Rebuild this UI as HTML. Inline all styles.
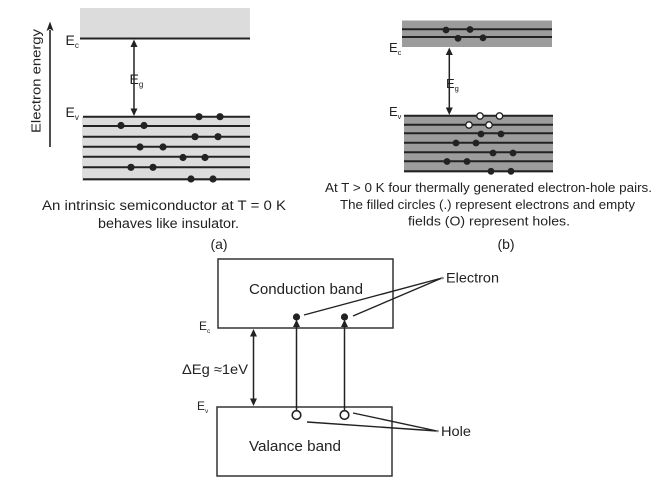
<!DOCTYPE html>
<html>
<head>
<meta charset="utf-8">
<style>
html,body{margin:0;padding:0;background:#fff;}
svg{display:block;}
text{font-family:"Liberation Sans",Arial,sans-serif;fill:#222;}
</style>
</head>
<body>
<svg width="672" height="493" viewBox="0 0 672 493" xmlns="http://www.w3.org/2000/svg">
<defs>
<marker id="ah" viewBox="0 0 10 10" refX="10" refY="5" markerWidth="7" markerHeight="7" orient="auto" markerUnits="userSpaceOnUse">
<path d="M0,0 L10,5 L0,10 z" fill="#222"/>
</marker>
</defs>

<!-- ===== Panel (a) ===== -->
<rect x="80" y="8" width="170" height="30.5" fill="#dcdcdc"/>
<line x1="80" y1="38.5" x2="250" y2="38.5" stroke="#222" stroke-width="2"/>
<rect x="82" y="117" width="168" height="64" fill="#dcdcdc"/>
<g stroke="#222" stroke-width="2">
<line x1="83" y1="116.7" x2="250" y2="116.7"/>
<line x1="83" y1="126" x2="250" y2="126"/>
<line x1="83" y1="136.7" x2="250" y2="136.7"/>
<line x1="83" y1="146.7" x2="250" y2="146.7"/>
<line x1="83" y1="156.7" x2="250" y2="156.7"/>
<line x1="83" y1="167.3" x2="250" y2="167.3"/>
<line x1="83" y1="179.3" x2="250" y2="179.3"/>
</g>
<g fill="#222">
<circle cx="199" cy="116.7" r="3.6"/><circle cx="220" cy="116.7" r="3.6"/>
<circle cx="121" cy="125.5" r="3.6"/><circle cx="144" cy="125.5" r="3.6"/>
<circle cx="195" cy="136.7" r="3.6"/><circle cx="218" cy="136.7" r="3.6"/>
<circle cx="140" cy="147" r="3.6"/><circle cx="163" cy="147" r="3.6"/>
<circle cx="183" cy="157.5" r="3.6"/><circle cx="205" cy="157.5" r="3.6"/>
<circle cx="131" cy="167.3" r="3.6"/><circle cx="153" cy="167.3" r="3.6"/>
<circle cx="191" cy="179" r="3.6"/><circle cx="213" cy="179" r="3.6"/>
</g>
<!-- Eg arrow (a) -->
<line x1="134" y1="46" x2="134" y2="110" stroke="#222" stroke-width="1.5"/>
<path d="M134,39.5 L130.5,47 L137.5,47 z" fill="#222"/>
<path d="M134,116 L130.5,108.5 L137.5,108.5 z" fill="#222"/>
<!-- labels (a) -->
<text x="65.5" y="45" font-size="14">E<tspan font-size="8" dy="3">c</tspan></text>
<text x="129.5" y="84" font-size="14">E<tspan font-size="8" dy="3">g</tspan></text>
<text x="65.5" y="117" font-size="14">E<tspan font-size="8" dy="3">v</tspan></text>
<!-- Electron energy axis -->
<line x1="50" y1="147" x2="50" y2="30" stroke="#222" stroke-width="1.6"/>
<path d="M50,21.5 L46.5,31 L50,29 L53.5,31 z" fill="#222"/>
<text transform="translate(40.5,81) rotate(-90)" font-size="12.5" text-anchor="middle" textLength="104" lengthAdjust="spacingAndGlyphs">Electron energy</text>

<!-- captions (a) -->
<text x="42" y="210" font-size="13.5" textLength="244" lengthAdjust="spacingAndGlyphs">An intrinsic semiconductor at T = 0 K</text>
<text x="98" y="228" font-size="13.5" textLength="141" lengthAdjust="spacingAndGlyphs">behaves like insulator.</text>
<text x="219" y="249" font-size="14" text-anchor="middle">(a)</text>

<!-- ===== Panel (b) ===== -->
<rect x="402" y="20.5" width="150" height="26.5" fill="#9c9c9c"/>
<g stroke="#222" stroke-width="2">
<line x1="402" y1="29.3" x2="552" y2="29.3"/>
<line x1="402" y1="37" x2="552" y2="37"/>
</g>
<g fill="#222">
<circle cx="446" cy="30" r="3.4"/><circle cx="470" cy="29.5" r="3.4"/>
<circle cx="458" cy="38.3" r="3.4"/><circle cx="483" cy="37.8" r="3.4"/>
</g>
<rect x="404" y="115.5" width="149" height="57" fill="#9c9c9c"/>
<g stroke="#222" stroke-width="2">
<line x1="404" y1="115.7" x2="553" y2="115.7"/>
<line x1="404" y1="124.7" x2="553" y2="124.7"/>
<line x1="404" y1="133.3" x2="553" y2="133.3"/>
<line x1="404" y1="142.7" x2="553" y2="142.7"/>
<line x1="404" y1="152.3" x2="553" y2="152.3"/>
<line x1="404" y1="161.3" x2="553" y2="161.3"/>
<line x1="404" y1="171.3" x2="553" y2="171.3"/>
</g>
<g fill="#fff" stroke="#222" stroke-width="1.3">
<circle cx="480" cy="116" r="3.2"/><circle cx="499.5" cy="116" r="3.2"/>
<circle cx="469" cy="125" r="3.2"/><circle cx="489" cy="125" r="3.2"/>
</g>
<g fill="#222">
<circle cx="481" cy="134" r="3.4"/><circle cx="501" cy="134" r="3.4"/>
<circle cx="456" cy="143" r="3.4"/><circle cx="476" cy="143" r="3.4"/>
<circle cx="493" cy="153" r="3.4"/><circle cx="513" cy="153" r="3.4"/>
<circle cx="447" cy="161.5" r="3.4"/><circle cx="467" cy="161.5" r="3.4"/>
<circle cx="491" cy="171.3" r="3.4"/><circle cx="511" cy="171.3" r="3.4"/>
</g>
<!-- Eg arrow (b) -->
<line x1="449.3" y1="54" x2="449.3" y2="108" stroke="#222" stroke-width="1.5"/>
<path d="M449.3,47.5 L445.8,55 L452.8,55 z" fill="#222"/>
<path d="M449.3,115 L445.8,107.5 L452.8,107.5 z" fill="#222"/>
<text x="389" y="52" font-size="13">E<tspan font-size="7.5" dy="3">c</tspan></text>
<text x="446" y="88" font-size="13">E<tspan font-size="7.5" dy="3">g</tspan></text>
<text x="389" y="116" font-size="13">E<tspan font-size="7.5" dy="3">v</tspan></text>

<!-- captions (b) -->
<text x="325" y="192" font-size="13" textLength="327" lengthAdjust="spacingAndGlyphs">At T &gt; 0 K four thermally generated electron-hole pairs.</text>
<text x="340" y="209" font-size="13" textLength="295" lengthAdjust="spacingAndGlyphs">The filled circles (.) represent electrons and empty</text>
<text x="408" y="225.5" font-size="13" textLength="162" lengthAdjust="spacingAndGlyphs">fields (O)  represent holes.</text>
<text x="506" y="249" font-size="14" text-anchor="middle">(b)</text>

<!-- ===== Bottom diagram ===== -->
<rect x="218" y="259" width="175" height="69" fill="none" stroke="#333" stroke-width="1.5"/>
<rect x="217" y="407" width="175" height="69" fill="none" stroke="#333" stroke-width="1.5"/>
<text x="249" y="294" font-size="15" textLength="114" lengthAdjust="spacingAndGlyphs">Conduction band</text>
<text x="249" y="451" font-size="15" textLength="92" lengthAdjust="spacingAndGlyphs">Valance band</text>

<!-- gap arrow -->
<line x1="253.5" y1="335" x2="253.5" y2="400" stroke="#222" stroke-width="1.5"/>
<path d="M253.5,329 L250,336.5 L257,336.5 z" fill="#222"/>
<path d="M253.5,406 L250,398.5 L257,398.5 z" fill="#222"/>
<text x="182" y="374" font-size="14" textLength="66" lengthAdjust="spacingAndGlyphs">ΔEg ≈1eV</text>
<text x="199" y="330" font-size="12">E<tspan font-size="6.5" dy="3">c</tspan></text>
<text x="197" y="410" font-size="12">E<tspan font-size="6.5" dy="3">v</tspan></text>

<!-- excitation arrows -->
<line x1="296.5" y1="411" x2="296.5" y2="326" stroke="#222" stroke-width="1.5"/>
<path d="M296.5,319.5 L293,327 L300,327 z" fill="#222"/>
<line x1="344.5" y1="411" x2="344.5" y2="326" stroke="#222" stroke-width="1.5"/>
<path d="M344.5,319.5 L341,327 L348,327 z" fill="#222"/>
<circle cx="296.5" cy="317" r="3.6" fill="#222"/>
<circle cx="344.5" cy="317" r="3.6" fill="#222"/>
<circle cx="296.5" cy="415" r="4.3" fill="#fff" stroke="#222" stroke-width="1.6"/>
<circle cx="344.5" cy="415" r="4.3" fill="#fff" stroke="#222" stroke-width="1.6"/>

<!-- leader lines -->
<g stroke="#222" stroke-width="1.4">
<line x1="304" y1="315" x2="442" y2="278"/>
<line x1="353" y1="316" x2="442" y2="278"/>
<line x1="307" y1="422" x2="437" y2="431"/>
<line x1="353" y1="413" x2="437" y2="431"/>
</g>
<circle cx="442.5" cy="278" r="1.3" fill="#888"/>
<circle cx="437.5" cy="431" r="1.3" fill="#888"/>
<text x="446" y="282.5" font-size="14" textLength="53" lengthAdjust="spacingAndGlyphs">Electron</text>
<text x="441" y="436" font-size="14" textLength="30" lengthAdjust="spacingAndGlyphs">Hole</text>
</svg>
</body>
</html>
